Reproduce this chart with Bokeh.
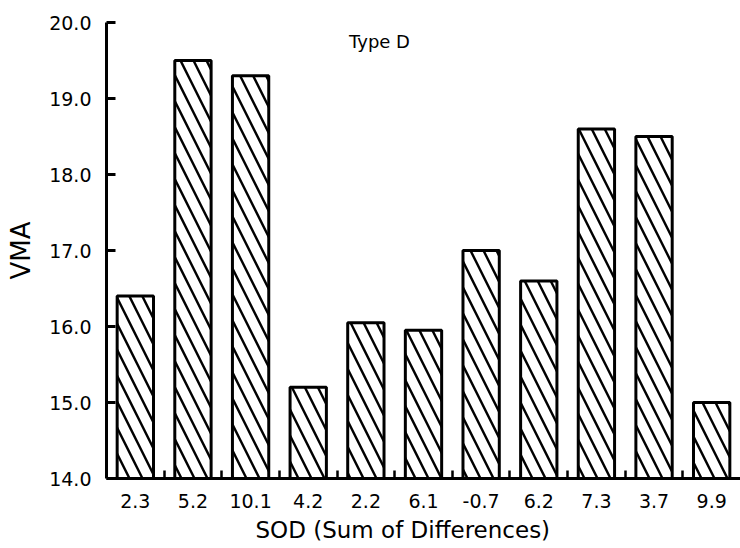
from bokeh.plotting import figure
from bokeh.models import FixedTicker, PrintfTickFormatter, Label, Range1d, ColumnDataSource, Title
from bokeh.embed import file_html
from bokeh.resources import INLINE

# Sum of differences for each mix (x categories) and the measured VMA
sod_labels = ["2.3", "5.2", "10.1", "4.2", "2.2", "6.1", "-0.7", "6.2", "7.3", "3.7", "9.9"]
vma = [16.4, 19.5, 19.3, 15.2, 16.05, 15.95, 17.0, 16.6, 18.6, 18.5, 15.0]
y_ticks = [14.0, 15.0, 16.0, 17.0, 18.0, 19.0, 20.0]
panel_title = "Type D"
x_title = "SOD (Sum of Differences)"
y_title = "VMA"

FONT = "DejaVu Sans"

positions = list(range(len(sod_labels)))
source = ColumnDataSource(data=dict(x=positions, top=vma, label=sod_labels))

p = figure(
    width=740, height=548,
    x_range=Range1d(-0.5, len(sod_labels) - 0.5),
    y_range=Range1d(y_ticks[0], y_ticks[-1]),
    output_backend="svg", toolbar_location=None,
    min_border_left=106, min_border_right=0,
    min_border_top=22, min_border_bottom=70,
)
p.outline_line_color = None
p.grid.visible = False
p.background_fill_color = "white"
p.border_fill_color = "white"

p.vbar(
    x="x", top="top", bottom=y_ticks[0], width=0.63, source=source,
    fill_color="white", line_color="black", line_width=3,
    hatch_pattern="\\", hatch_color="black", hatch_weight=2.4, hatch_scale=26,
)

# x axis: labels at bar centres, short inward ticks between bars
xa = p.xaxis[0]
xa.ticker = FixedTicker(ticks=positions,
                        minor_ticks=[i + 0.5 for i in positions[:-1]])
xa.major_label_overrides = {i: lab for i, lab in zip(positions, sod_labels)}
xa.major_tick_line_color = None
xa.minor_tick_in = 8
xa.minor_tick_out = 0
xa.minor_tick_line_width = 2.5
xa.minor_tick_line_color = "black"
xa.axis_line_width = 3
xa.axis_line_color = "black"
xa.major_label_text_font = FONT
xa.major_label_text_font_size = "19px"
xa.major_label_text_color = "black"
xa.major_label_standoff = 9

ya = p.yaxis[0]
ya.ticker = FixedTicker(ticks=y_ticks)
ya.formatter = PrintfTickFormatter(format="%.1f")
ya.major_tick_in = 9
ya.major_tick_out = 0
ya.major_tick_line_width = 3
ya.minor_tick_line_color = None
ya.axis_line_width = 3
ya.axis_line_color = "black"
ya.major_label_text_font = FONT
ya.major_label_text_font_size = "19px"
ya.major_label_text_color = "black"
ya.major_label_standoff = 15
ya.axis_label = y_title
ya.axis_label_text_font = FONT
ya.axis_label_text_font_size = "26px"
ya.axis_label_text_font_style = "normal"
ya.axis_label_text_color = "black"
ya.axis_label_standoff = 10

p.add_layout(Label(x=273, y=437, x_units="screen", y_units="screen",
                   text=panel_title, text_align="center", text_baseline="alphabetic",
                   text_font=FONT, text_font_size="18px", text_color="black"))

# x-axis caption set under the tick labels
p.add_layout(Title(text=x_title, align="left", offset=149, standoff=8,
                   text_font=FONT, text_font_size="23px", text_font_style="normal",
                   text_color="black"), "below")

open("out.html", "w").write(file_html(p, INLINE))
